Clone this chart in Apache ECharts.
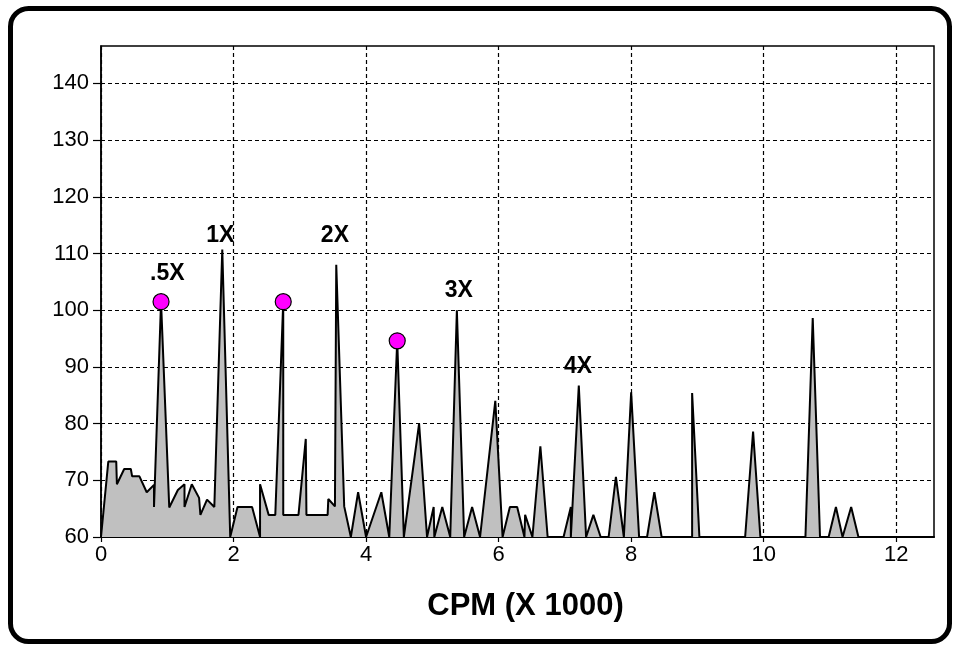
<!DOCTYPE html>
<html>
<head>
<meta charset="utf-8">
<script src="https://cdn.jsdelivr.net/npm/echarts@6/dist/echarts.min.js"></script>
<style>
  html, body { margin: 0; padding: 0; background: #fff; }
  #chart { width: 958px; height: 648px; }
</style>
</head>
<body>
<div id="chart"></div>
<script>
// spectrum trace, CPM (x1000) vs amplitude
const cpm = [
  0, 0.11, 0.23, 0.24, 0.35, 0.45, 0.47, 0.58, 0.69, 0.80, 0.80, 0.906, 1.03, 1.16, 1.26, 1.26,
  1.37, 1.48, 1.50, 1.60, 1.71, 1.83, 1.95, 2.06, 2.28, 2.40, 2.40, 2.53, 2.63, 2.75, 2.75, 2.98,
  3.09, 3.10, 3.42, 3.43, 3.53, 3.55, 3.67, 3.77, 3.88, 4.00, 4.23, 4.35, 4.47, 4.57, 4.80, 4.92,
  5.02, 5.03, 5.15, 5.27, 5.37, 5.48, 5.60, 5.72, 5.95, 6.06, 6.17, 6.28, 6.39, 6.40, 6.51, 6.63,
  6.74, 6.98, 7.09, 7.09, 7.21, 7.32, 7.43, 7.54, 7.66, 7.77, 7.89, 8.00, 8.12, 8.24, 8.35, 8.46,
  8.92, 8.92, 9.03, 9.72, 9.84, 9.95, 10.63, 10.74, 10.85, 10.98, 11.09, 11.19, 11.32, 11.43
]
const amp = [
  60, 73.3, 73.3, 69.3, 72.0, 72.0, 70.7, 70.7, 67.9, 69.2, 65.3, 101.5, 65.2, 68.3, 69.3, 65.3,
  69.3, 66.9, 63.9, 66.6, 65.3, 110.7, 60, 65.3, 65.3, 60, 69.3, 63.9, 63.9, 101.5, 63.9, 63.9,
  77.3, 63.9, 63.9, 66.7, 65.4, 108.0, 65.4, 60, 67.9, 60, 67.9, 60, 94.6, 60, 80.0, 60,
  65.3, 60, 65.3, 60, 100.0, 60, 65.3, 60, 84.0, 60, 65.3, 65.3, 60, 63.9, 60, 76.0,
  60, 60, 65.3, 60, 86.7, 60, 63.9, 60, 60, 70.6, 60, 85.5, 60, 60, 67.9, 60,
  60, 85.4, 60, 60, 78.6, 60, 60, 98.6, 60, 60, 65.3, 60, 65.3, 60
]

// highlighted peaks
const markedX = [0.906, 2.75, 4.47]
const markedY = [101.5, 101.5, 94.6]

// harmonic labels
const harmonicNames = ['.5X', '1X', '2X', '3X', '4X']
const harmonicX = [1.0, 1.80, 3.53, 5.40, 7.20]
const harmonicY = [106.4, 113.2, 113.2, 103.4, 90.1]

const xTicks = [0, 2, 4, 6, 8, 10, 12]
const yTicks = [60, 70, 80, 90, 100, 110, 120, 130, 140]

const chart = echarts.init(document.getElementById('chart'))

const gridLine = { show: true, lineStyle: { color: '#000', width: 1.2, type: [4, 3] } }
const font = 'Liberation Sans, Arial, sans-serif'

chart.setOption({
  animation: false,
  graphic: [{
    type: 'rect',
    shape: { x: 10.5, y: 8.5, width: 939, height: 633, r: 18 },
    style: { fill: 'none', stroke: '#000', lineWidth: 5 },
    silent: true
  }],
  grid: {
    left: 101, right: 24, top: 46, bottom: 111,
    show: true, borderColor: '#000', borderWidth: 1.5, backgroundColor: 'transparent'
  },
  xAxis: {
    type: 'value',
    min: 0, max: 12.57, interval: 2,
    name: 'CPM (X 1000)',
    nameLocation: 'middle',
    nameGap: 54,
    nameTextStyle: { fontFamily: font, fontSize: 31, fontWeight: 'bold', color: '#000', padding: [0, 0, 0, 16] },
    axisLine: { lineStyle: { color: '#000', width: 2 } },
    axisTick: { show: true, length: 5, lineStyle: { color: '#000', width: 1.2 }, customValues: xTicks },
    axisLabel: { fontFamily: font, fontSize: 22, color: '#000', margin: 7, customValues: xTicks },
    splitLine: gridLine
  },
  yAxis: {
    type: 'value',
    min: 60, max: 146.6, interval: 10,
    axisLine: { show: true, lineStyle: { color: '#000', width: 1.5 } },
    axisTick: { show: true, length: 8, lineStyle: { color: '#000', width: 1.2 }, customValues: yTicks },
    axisLabel: { fontFamily: font, fontSize: 22, color: '#000', margin: 12, customValues: yTicks },
    splitLine: gridLine
  },
  series: [
    {
      type: 'line',
      data: cpm.map((x, i) => [x, amp[i]]),
      symbol: 'none',
      lineStyle: { color: '#000', width: 2 },
      areaStyle: { color: '#c0c0c0', opacity: 1, origin: 'start' },
      z: 3
    },
    {
      type: 'scatter',
      data: markedX.map((x, i) => [x, markedY[i]]),
      symbol: 'circle',
      symbolSize: 16,
      itemStyle: { color: '#ff00ff', borderColor: '#000', borderWidth: 1.2, opacity: 1 },
      z: 5
    },
    {
      type: 'scatter',
      data: harmonicX.map((x, i) => ({ value: [x, harmonicY[i]], name: harmonicNames[i] })),
      symbolSize: 0,
      itemStyle: { opacity: 1 },
      label: {
        show: true, position: 'inside', formatter: p => p.name,
        fontFamily: font, fontSize: 23, fontWeight: 'bold', color: '#000'
      },
      z: 6
    }
  ]
})
</script>
</body>
</html>
